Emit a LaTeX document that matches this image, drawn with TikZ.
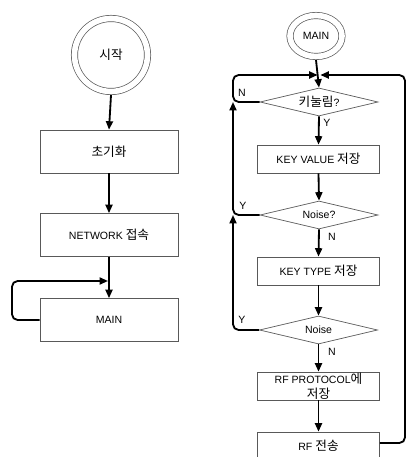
\documentclass[tikz,border=0pt]{standalone}
\usepackage{fontspec}
\setmainfont{Liberation Sans}
\newfontfamily\kr[Scale=1.2]{Noto Sans CJK KR}
\usepackage{tikz}
\usetikzlibrary{arrows.meta,shapes.geometric}

\tikzset{
  base/.style={font=\fontsize{7.5}{10.5}\selectfont, draw=black!65, line width=0.5pt, align=center},
  proc/.style={base, rectangle, minimum width=3.05cm, minimum height=0.7cm, inner sep=1pt},
  bigproc/.style={proc, minimum width=3.45cm, minimum height=1.075cm},
  decide/.style={base, diamond, aspect=4, inner sep=0pt, minimum width=2.95cm, minimum height=0.7cm},
  term/.style={base, double, double distance=4pt, outer sep=2.5pt},
  flow/.style={line width=1.3pt, -{Triangle[length=6pt,width=5pt]}},
  link/.style={line width=1.3pt, rounded corners=4pt},
  yn/.style={font=\fontsize{7.5}{8}\selectfont, inner sep=0pt}
}

\begin{document}
\begin{tikzpicture}[x=0.025cm, y=-0.025cm]
\clip (0,0) rectangle (407,457);

% left column: start up
\node [term, circle, minimum size=1.825cm] (start) at (111,55) {\kr 시작};
\node [bigproc] (init) at (109,151.5) {\kr 초기화};
\node [bigproc] (net) at (109,235) {NETWORK {\kr 접속}};
\node [bigproc] (mainbox) at (109,320) {MAIN};

\draw [flow] (start.south) -- (init.north);
\draw [flow] (init.south) -- (net.north);
\draw [flow] (net.south) -- (mainbox.north);
\coordinate (loopin) at (108,281);
\draw [link,-{Triangle[length=6pt,width=5pt]}] (mainbox.west) -- (12,320) -- (12,281) -- (loopin);

% right column: MAIN loop
\node [term, ellipse, minimum width=1.3cm, minimum height=1.025cm] (mainc) at (316,36) {MAIN};
\coordinate (merge) at (319,75);
\coordinate (xl) at (233,0);
\coordinate (xr) at (405,0);

\node [decide] (press) at (319,102) {{\kr 키눌림}?};
\node [proc] (keyval) at (318.5,159) {KEY VALUE {\kr 저장}};
\node [decide] (noise1) at (319,215) {Noise?};
\node [proc] (keytype) at (318.5,271) {KEY TYPE {\kr 저장}};
\node [decide] (noise2) at (318.5,330) {Noise};
\node [proc, inner sep=0pt] (proto) at (318.5,386) {RF PROTOCOL{\kr 에}\\{\kr 저장}};
\node [proc] (send) at (318.5,446) {RF {\kr 전송}};

\draw [flow] (mainc.south) -- (press.north);
\draw [flow] (press.south) -- (keyval.north);
\draw [flow] (keyval.south) -- (noise1.north);
\draw [flow] (noise1.south) -- (keytype.north);
\draw [flow] (keytype.south) -- (noise2.north);
\draw [flow] (noise2.south) -- (proto.north);
\draw [flow] (proto.south) -- (send.north);

% back edges
\draw [link,-{Triangle[length=6pt,width=5pt]}, shorten >=1pt]
  (press.west) -- (xl |- press.west) -- (xl |- merge) -- (merge);
\draw [link,-{Triangle[length=6pt,width=5pt]}] (noise1.west) -- (xl |- noise1.west) -- (xl |- press.west);
\draw [link,-{Triangle[length=6pt,width=5pt]}] (noise2.west) -- (xl |- noise2.west) -- (xl |- noise1.west);
\draw [link,-{Triangle[length=6pt,width=5pt]}, shorten >=1pt]
  (send.east |- 0,443) -- (xr |- 0,443) -- (xr |- merge) -- (merge);

% branch labels
\node [yn] (n1) at (242,93) {N};
\node [yn] (y1) at (327,123) {Y};
\node [yn] (y2) at (243,206) {Y};
\node [yn] (n2) at (332,237) {N};
\node [yn] (y3) at (242,320) {Y};
\node [yn] (n3) at (332,352) {N};
\end{tikzpicture}
\end{document}
